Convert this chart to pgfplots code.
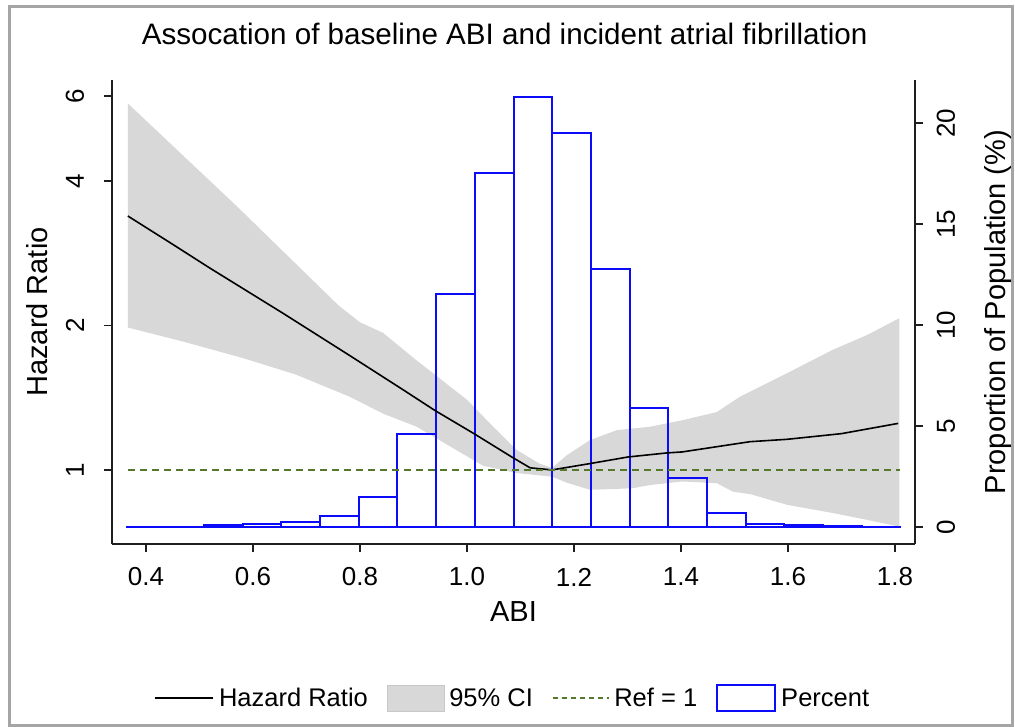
\documentclass[border=0pt]{standalone}
\usepackage{fontspec}
\setmainfont{Liberation Sans}
\usepackage{pgfplots}
\pgfplotsset{compat=1.18}
\definecolor{bandgray}{RGB}{216,216,216}
\definecolor{refgreen}{RGB}{84,120,44}
\definecolor{histblue}{RGB}{12,12,250}
\definecolor{framegray}{RGB}{165,165,165}
\definecolor{axisblack}{RGB}{30,30,30}
\pgfplotsset{
  every axis/.append style={scale only axis, width=803pt, height=464pt, at={(112pt,183pt)}, anchor=south west,
    xmin=0.3364, xmax=1.8374,
    axis line style={line width=1.8pt, axisblack},
    tick style={line width=1.8pt, axisblack},
    major tick length=8pt, tick align=outside,
    xminorticks=false, yminorticks=false,
    ticklabel style={font=\fontsize{26}{30}\selectfont},
    label style={font=\fontsize{29}{34}\selectfont},
  },
}
\begin{document}
\begin{tikzpicture}[x=1pt,y=1pt]
\useasboundingbox (0,0) rectangle (1015,727);
\draw[framegray, line width=3pt] (9,1.5) rectangle (1012.5,720);
% axis 1: left scale, band, axes
\begin{axis}[ymode=log, ymin=0.701, ymax=6.49,
  axis x line*=bottom, axis y line*=left,
  xtick={0.4,0.6,0.8,1.0,1.2,1.4,1.6,1.8},
  xticklabels={0.4,0.6,0.8,1.0,1.2,1.4,1.6,1.8},
  ytick={1,2,4,6}, yticklabels={1,2,4,6},
  yticklabel style={rotate=90, anchor=center, yshift=29pt},
  xticklabel style={anchor=center, yshift=-25pt},
  xlabel={ABI}, ylabel={Hazard Ratio},
  xlabel style={at={(axis description cs:0.5,-0.1466)}, anchor=center},
  ylabel style={at={(axis description cs:-0.0934,0.5)}, anchor=center},
  title={Assocation of baseline ABI and incident atrial fibrillation},
  title style={at={(axis description cs:0.489,1.086)}, anchor=center, font=\fontsize{29.6}{34}\selectfont},
]
\addplot[fill=bandgray, draw=none] coordinates {
(0.366,5.80) (0.57,3.54) (0.76,2.20) (0.80,2.03) (0.843,1.93) (0.906,1.69) (1.000,1.40)
(1.049,1.23) (1.093,1.10) (1.136,1.03) (1.159,1.01) (1.187,1.074) (1.230,1.154)
(1.280,1.21) (1.342,1.23) (1.404,1.27) (1.467,1.32) (1.510,1.42) (1.598,1.59)
(1.684,1.78) (1.748,1.91) (1.808,2.07)
(1.808,0.762) (1.748,0.787) (1.684,0.813) (1.598,0.846) (1.53,0.89) (1.497,0.901)
(1.467,0.938) (1.402,0.946) (1.342,0.93) (1.310,0.916) (1.280,0.913) (1.230,0.909)
(1.187,0.94) (1.159,0.968) (1.093,0.985) (1.030,1.02) (0.968,1.12) (0.906,1.23)
(0.843,1.31) (0.781,1.42) (0.68,1.58) (0.581,1.71) (0.47,1.85) (0.366,1.98)
};
\end{axis}
% axis 2: right scale, histogram
\begin{axis}[ymin=-0.84, ymax=22.13,
  axis x line=none, axis y line*=right,
  ytick={0,5,10,15,20}, yticklabels={0,5,10,15,20},
  yticklabel style={rotate=90, anchor=center, yshift=-23pt},
  ylabel={Proportion of Population (\%)},
  ylabel style={at={(axis description cs:1.1034,0.5)}, anchor=center},
]
\addplot[ybar interval, draw=histblue, fill=none, line width=2pt] coordinates {
(0.364,0.02) (0.436,0.02) (0.509,0.08) (0.581,0.15) (0.653,0.25) (0.726,0.55)
(0.798,1.49) (0.870,4.6) (0.942,11.53) (1.015,17.54) (1.087,21.3) (1.159,19.52)
(1.232,12.76) (1.304,5.89) (1.376,2.41) (1.449,0.71) (1.521,0.15) (1.593,0.10)
(1.665,0.03) (1.738,0.01) (1.810,0.01)
};
\end{axis}
% axis 3: left scale, line and reference, legend
\begin{axis}[ymode=log, ymin=0.701, ymax=6.49, hide axis,
  legend columns=4,
  legend style={at={(0.501,-0.332)}, anchor=center, draw=none, fill=none,
    font=\fontsize{25.5}{29}\selectfont,
    /tikz/every even column/.append style={column sep=14pt},
    nodes={inner sep=5pt}},
]
\addplot[black, line width=1.6pt, forget plot] coordinates {
(0.366,3.38) (0.45,2.95) (0.52,2.63) (0.656,2.12) (0.781,1.73) (0.880,1.47)
(0.940,1.33) (1.013,1.19) (1.086,1.06) (1.118,1.01) (1.159,1.0) (1.228,1.03)
(1.301,1.064) (1.374,1.085) (1.402,1.09) (1.529,1.145) (1.598,1.158) (1.70,1.19)
(1.806,1.25)
};
\addplot[refgreen, line width=1.4pt, dash pattern=on 7pt off 5pt, forget plot] coordinates {
(0.366,1) (1.81,1)
};
\addlegendimage{legend image code/.code={\draw[black, line width=1.6pt] (0pt,0pt) -- (58pt,0pt);}}
\addlegendimage{legend image code/.code={\draw[fill=bandgray, draw=black!22] (0pt,-13pt) rectangle (57pt,13pt);}}
\addlegendimage{legend image code/.code={\draw[refgreen, line width=1.4pt, dash pattern=on 5pt off 4pt] (0pt,0pt) -- (56pt,0pt);}}
\addlegendimage{legend image code/.code={\draw[histblue, line width=2pt, fill=white] (0pt,-13pt) rectangle (58pt,13pt);}}
\legend{Hazard Ratio, 95\% CI, Ref = 1, Percent}
\end{axis}
\end{tikzpicture}
\end{document}
